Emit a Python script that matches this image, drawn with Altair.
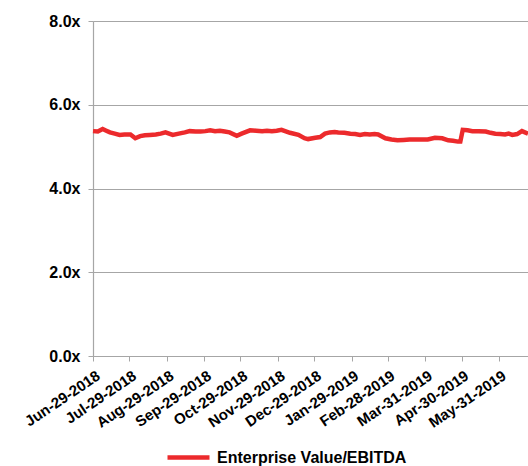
import altair as alt
import pandas as pd

dates = [
    "2018-06-29", "2018-07-03", "2018-07-07", "2018-07-10", "2018-07-13", "2018-07-17",
    "2018-07-21", "2018-07-25", "2018-07-30", "2018-08-03", "2018-08-07", "2018-08-11",
    "2018-08-15", "2018-08-20", "2018-08-24", "2018-08-28", "2018-09-03", "2018-09-08",
    "2018-09-13", "2018-09-17", "2018-09-22", "2018-09-26", "2018-09-30", "2018-10-04",
    "2018-10-08", "2018-10-12", "2018-10-16", "2018-10-20", "2018-10-26", "2018-10-30",
    "2018-11-06", "2018-11-11", "2018-11-16", "2018-11-20", "2018-11-24", "2018-11-28",
    "2018-12-02", "2018-12-09", "2018-12-16", "2018-12-21", "2018-12-24", "2018-12-30",
    "2019-01-03", "2019-01-07", "2019-01-11", "2019-01-15", "2019-01-18", "2019-01-23",
    "2019-01-28", "2019-02-01", "2019-02-05", "2019-02-09", "2019-02-13", "2019-02-17",
    "2019-02-20", "2019-02-26", "2019-03-03", "2019-03-08", "2019-03-13", "2019-03-18",
    "2019-03-25", "2019-04-02", "2019-04-08", "2019-04-14", "2019-04-19", "2019-04-23",
    "2019-04-27", "2019-04-29", "2019-05-01", "2019-05-05", "2019-05-09", "2019-05-14",
    "2019-05-20", "2019-05-24", "2019-05-28", "2019-06-01", "2019-06-05", "2019-06-08",
    "2019-06-11", "2019-06-15", "2019-06-19", "2019-06-24",
]
ev_ebitda = [
    5.37, 5.36, 5.42, 5.38, 5.34, 5.31,
    5.28, 5.29, 5.29, 5.20, 5.25, 5.27,
    5.28, 5.29, 5.31, 5.34, 5.28, 5.31,
    5.34, 5.37, 5.36, 5.36, 5.37, 5.39,
    5.37, 5.38, 5.36, 5.34, 5.26, 5.31,
    5.39, 5.38, 5.37, 5.38, 5.37, 5.38,
    5.40, 5.33, 5.28, 5.20, 5.18, 5.21,
    5.23, 5.31, 5.34, 5.35, 5.34, 5.33,
    5.31, 5.30, 5.28, 5.30, 5.29, 5.30,
    5.29, 5.20, 5.17, 5.15, 5.16, 5.17,
    5.17, 5.17, 5.21, 5.20, 5.15, 5.14,
    5.12, 5.12, 5.40, 5.39, 5.37, 5.37,
    5.36, 5.33, 5.31, 5.30, 5.29, 5.31,
    5.28, 5.30, 5.37, 5.31,
]
series_name = "Enterprise Value/EBITDA"
y_ticks = [0, 2, 4, 6, 8]
x_tick_dates = [
    (2018, 6, 29), (2018, 7, 29), (2018, 8, 29), (2018, 9, 29), (2018, 10, 29),
    (2018, 11, 29), (2018, 12, 29), (2019, 1, 29), (2019, 2, 28), (2019, 3, 31),
    (2019, 4, 30), (2019, 5, 31),
]

df = pd.DataFrame({"date": dates, "value": ev_ebitda, "series": series_name})

font = "Liberation Sans"
grid_col = "#A6A6A6"

x_axis = alt.Axis(
    values=[alt.DateTime(year=y, month=m, date=d, utc=True) for y, m, d in x_tick_dates],
    labelExpr="utcFormat(datum.value, '%b-%d-%Y')",
    labelAngle=326,
    labelAlign="right",
    labelBaseline="top",
    labelFont=font,
    labelFontSize=15,
    labelFontWeight="bold",
    labelColor="#000000",
    labelPadding=7,
    labelOffset=1,
    labelOverlap=False,
    labelFlush=False,
    labelBound=False,
    labelLimit=200,
    domainColor=grid_col,
    domainWidth=1.2,
    tickColor=grid_col,
    tickSize=5,
    grid=False,
    title=None,
)

y_axis = alt.Axis(
    values=y_ticks,
    labelExpr="format(datum.value, '.1f') + 'x'",
    labelFont=font,
    labelFontSize=16,
    labelFontWeight="bold",
    labelColor="#000000",
    labelPadding=8,
    domainColor=grid_col,
    domainWidth=1.2,
    tickColor=grid_col,
    tickSize=5,
    gridColor=grid_col,
    gridWidth=1.2,
    title=None,
)

chart = (
    alt.Chart(df)
    .mark_line(strokeWidth=4.5, clip=False)
    .encode(
        x=alt.X(
            "date:T",
            scale=alt.Scale(
                type="utc",
                domain=[
                    alt.DateTime(year=2018, month=6, date=29, utc=True),
                    alt.DateTime(year=2019, month=6, date=24, utc=True),
                ],
            ),
            axis=x_axis,
        ),
        y=alt.Y("value:Q", scale=alt.Scale(domain=[0, 8], nice=False), axis=y_axis),
        color=alt.Color(
            "series:N",
            scale=alt.Scale(domain=[series_name], range=["#EC2A2C"]),
            legend=alt.Legend(
                title=None,
                orient="none",
                legendX=72,
                legendY=413,
                symbolType="stroke",
                symbolSize=1764,
                symbolStrokeWidth=4.5,
                labelFont=font,
                labelFontSize=16,
                labelFontWeight="bold",
                labelColor="#000000",
                labelOffset=5,
                labelLimit=300,
            ),
        ),
    )
    .properties(
        width=435,
        height=335,
        autosize=alt.AutoSizeParams(type="none"),
        padding={"left": 93, "top": 21, "right": 0, "bottom": 110},
    )
    .configure_view(stroke=None)
    .configure(background="#FFFFFF")
)

chart.save("out.html", embed_options={"renderer": "svg", "actions": False})
